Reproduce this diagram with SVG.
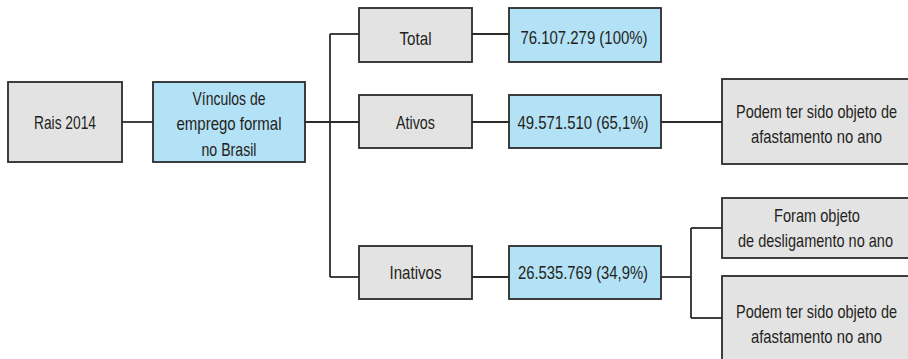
<svg xmlns="http://www.w3.org/2000/svg" width="908" height="359" viewBox="0 0 908 359">
  <style>
    .box { stroke: #2b2b2b; stroke-width: 1.8; }
    .gray { fill: #e3e3e4; }
    .blue { fill: #b3e1f5; }
    .lbl { font-family: "Liberation Sans", Arial, sans-serif; font-size: 19px; fill: #231f20; text-anchor: middle; }
    .conn { fill: none; stroke: #2b2b2b; stroke-width: 1.8; }
  </style>

  <!-- connectors -->
  <g id="connectors">
    <path class="conn" d="M122 122 H153"/>
    <path class="conn" d="M305 122 H359"/>
    <path class="conn" d="M330 34 V277"/>
    <path class="conn" d="M330 34 H359"/>
    <path class="conn" d="M330 277 H359"/>
    <path class="conn" d="M472 34 H509"/>
    <path class="conn" d="M472 122 H509"/>
    <path class="conn" d="M472 277 H509"/>
    <path class="conn" d="M661 122 H722"/>
    <path class="conn" d="M661 277 H691"/>
    <path class="conn" d="M691 228 V318"/>
    <path class="conn" d="M691 228 H722"/>
    <path class="conn" d="M691 318 H722"/>
  </g>

  <g id="rais">
    <rect class="box gray" x="8" y="82" width="114" height="80"/>
    <text class="lbl" x="65" y="128.5" textLength="62" lengthAdjust="spacingAndGlyphs">Rais 2014</text>
  </g>

  <g id="vinculos">
    <rect class="box blue" x="153" y="82" width="152" height="80"/>
    <text class="lbl" x="229" y="104.5" textLength="73" lengthAdjust="spacingAndGlyphs">Vínculos de</text>
    <text class="lbl" x="229" y="130" textLength="105" lengthAdjust="spacingAndGlyphs">emprego formal</text>
    <text class="lbl" x="229" y="155.5" textLength="55" lengthAdjust="spacingAndGlyphs">no Brasil</text>
  </g>

  <g id="total">
    <rect class="box gray" x="359" y="8" width="113" height="54"/>
    <text class="lbl" x="415.5" y="44.5" textLength="32" lengthAdjust="spacingAndGlyphs">Total</text>
  </g>

  <g id="ativos">
    <rect class="box gray" x="359" y="95" width="113" height="53"/>
    <text class="lbl" x="415.5" y="128.5" textLength="39" lengthAdjust="spacingAndGlyphs">Ativos</text>
  </g>

  <g id="inativos">
    <rect class="box gray" x="359" y="246" width="113" height="53"/>
    <text class="lbl" x="415.5" y="279" textLength="52" lengthAdjust="spacingAndGlyphs">Inativos</text>
  </g>

  <g id="total-valor">
    <rect class="box blue" x="509" y="8" width="152" height="54"/>
    <text class="lbl" x="584" y="44" textLength="127" lengthAdjust="spacingAndGlyphs">76.107.279 (100%)</text>
  </g>

  <g id="ativos-valor">
    <rect class="box blue" x="509" y="95" width="152" height="53"/>
    <text class="lbl" x="583" y="129" textLength="131" lengthAdjust="spacingAndGlyphs">49.571.510 (65,1%)</text>
  </g>

  <g id="inativos-valor">
    <rect class="box blue" x="509" y="246" width="152" height="53"/>
    <text class="lbl" x="583" y="279" textLength="130" lengthAdjust="spacingAndGlyphs">26.535.769 (34,9%)</text>
  </g>

  <!-- right-hand boxes run past the canvas edge -->
  <g id="ativos-afastamento">
    <rect class="box gray" x="722" y="79" width="192" height="85"/>
    <text class="lbl" x="816.5" y="117.5" textLength="161" lengthAdjust="spacingAndGlyphs">Podem ter sido objeto de</text>
    <text class="lbl" x="816.5" y="143" textLength="131" lengthAdjust="spacingAndGlyphs">afastamento no ano</text>
  </g>

  <g id="inativos-desligamento">
    <rect class="box gray" x="722" y="198" width="192" height="60"/>
    <text class="lbl" x="817" y="222" textLength="86" lengthAdjust="spacingAndGlyphs">Foram objeto</text>
    <text class="lbl" x="815.5" y="247" textLength="155" lengthAdjust="spacingAndGlyphs">de desligamento no ano</text>
  </g>

  <g id="inativos-afastamento">
    <rect class="box gray" x="722" y="276" width="192" height="90"/>
    <text class="lbl" x="816.5" y="318" textLength="161" lengthAdjust="spacingAndGlyphs">Podem ter sido objeto de</text>
    <text class="lbl" x="816.5" y="343" textLength="131" lengthAdjust="spacingAndGlyphs">afastamento no ano</text>
  </g>
</svg>
